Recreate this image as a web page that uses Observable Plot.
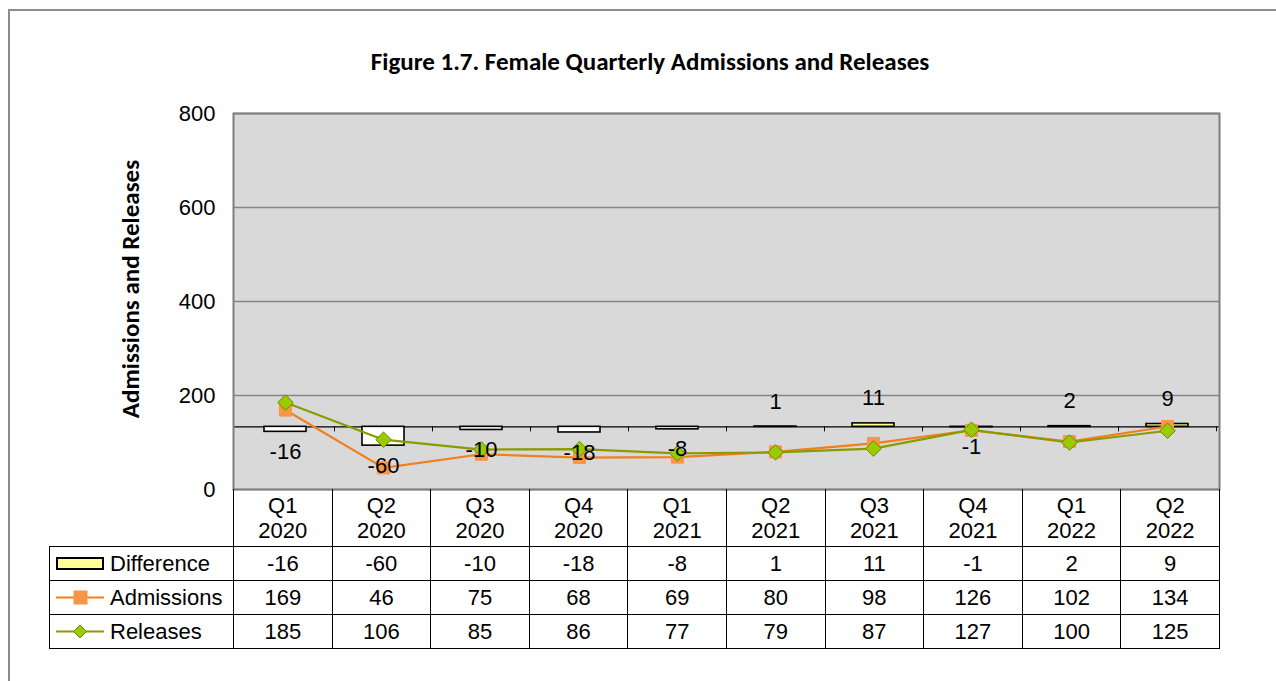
<!DOCTYPE html>
<html>
<head>
<meta charset="utf-8">
<script src="https://cdn.jsdelivr.net/npm/d3@7"></script>
<script src="https://cdn.jsdelivr.net/npm/@observablehq/plot@0.6"></script>
<style>
  html, body { margin: 0; padding: 0; overflow: hidden; background: #fff; }
  #root { position: relative; width: 1276px; height: 681px; overflow: hidden; }
  #outer { position: absolute; left: 8px; top: 9px; width: 1300px; height: 700px; border: 2px solid #8c8c8c; box-sizing: border-box; }
  #title { position: absolute; left: 0; width: 1300px; top: 46px; text-align: center; font-family: Carlito, Lato, "Open Sans", sans-serif; font-weight: 700; font-size: 25px; color: #000; line-height: 32px; }
  #ytitle { position: absolute; left: 130px; top: 289px; transform: translate(-50%, -50%) rotate(-90deg); white-space: nowrap; font-family: Carlito, Lato, "Open Sans", sans-serif; font-weight: 700; font-size: 25px; color: #000; }
  #chart { position: absolute; left: 0; top: 0; }
  #table { position: absolute; left: 49px; top: 489px; border-collapse: collapse; table-layout: fixed; font-family: "Liberation Sans", Arial, sans-serif; font-size: 22px; color: #000; }
  #table td { border: 1px solid #000; padding: 0; text-align: center; vertical-align: middle; height: 33px; }
  #table tr.head td { height: 57px; line-height: 25px; border-top: none; }
  #table tr.head td.blank { border: none; }
  #table td.key { text-align: left; }
  #table td.key div { display: flex; align-items: center; }
  #table td.key svg { margin-left: 6px; margin-right: 6px; }
</style>
</head>
<body>
<div id="root">
  <div id="outer"></div>
  <div id="chart"></div>
  <div id="title"></div>
  <div id="ytitle"></div>
  <table id="table"></table>
</div>
<script>
// ---- data ----
const titleText = "Figure 1.7. Female Quarterly Admissions and Releases";
const yAxisTitle = "Admissions and Releases";
const categories = ["Q1 2020", "Q2 2020", "Q3 2020", "Q4 2020", "Q1 2021", "Q2 2021", "Q3 2021", "Q4 2021", "Q1 2022", "Q2 2022"];
const difference = [-16, -60, -10, -18, -8, 1, 11, -1, 2, 9];
const admissions = [169, 46, 75, 68, 69, 80, 98, 126, 102, 134];
const releases = [185, 106, 85, 86, 77, 79, 87, 127, 100, 125];
const yTicks = [0, 200, 400, 600, 800];
const yDomain = [0, 800];
const secondaryDomain = [-200, 1000]; // hidden secondary axis for Difference
const seriesNames = ["Difference", "Admissions", "Releases"];

// ---- styles ----
const colors = {
  bg: "#d9d9d9", grid: "#868686", frame: "#7f7f7f",
  posFill: "#ffff99", negFill: "#ffffff",
  admLine: "#f07f1e", admFill: "#f79646",
  relLine: "#8a9a00", relFill: "#99cc00", relStroke: "#6f8a00"
};

document.getElementById("title").textContent = titleText;
document.getElementById("ytitle").textContent = yAxisTitle;

const data = categories.map((c, i) => ({cat: c, diff: difference[i], adm: admissions[i], rel: releases[i]}));
// map secondary-axis values onto the primary y domain
const sec = d3.scaleLinear().domain(secondaryDomain).range(yDomain);

const baselineTicks = (index, scales) => {
  const g = d3.create("svg:g");
  const sx = scales.x;
  const bw = typeof sx.bandwidth === "function" ? sx.bandwidth() : scales.scales.x.bandwidth;
  const y0 = scales.y(sec(0));
  for (const c of categories) {
    const xr = Math.round(sx(c) + bw) + 0.5;
    g.append("line").attr("x1", xr).attr("x2", xr).attr("y1", y0).attr("y2", y0 + 5)
      .attr("stroke", "#000").attr("stroke-width", 1);
  }
  return g.node();
};

const plot = Plot.plot({
  width: 1276,
  height: 490,
  marginLeft: 233,
  marginRight: 57,
  marginTop: 113,
  marginBottom: 1,
  style: {fontFamily: "'Liberation Sans', Arial, sans-serif", fontSize: "22px", color: "#000", background: "transparent", overflow: "visible"},
  x: {domain: categories, padding: 0, axis: null},
  y: {domain: yDomain, ticks: yTicks, tickSize: 0, tickPadding: 18, label: null, tickFormat: d => String(d)},
  color: {type: "identity"},
  marks: [
    Plot.frame({fill: colors.bg, stroke: null}),
    Plot.gridY(yTicks, {stroke: colors.grid, strokeOpacity: 1, strokeWidth: 1.5}),
    Plot.ruleY([sec(0)], {stroke: "#000", strokeWidth: 1.2}),
    baselineTicks,
    Plot.barY(data, {
      x: "cat", y1: () => sec(0), y2: d => sec(d.diff),
      fill: d => d.diff < 0 ? colors.negFill : colors.posFill,
      stroke: "#000", strokeWidth: 1.6, insetLeft: 28, insetRight: 28
    }),
    Plot.line(data, {x: "cat", y: "adm", stroke: colors.admLine, strokeWidth: 2.2}),
    Plot.dot(data, {x: "cat", y: "adm", symbol: "square", r: 6.8, fill: colors.admFill, stroke: colors.admFill, strokeWidth: 1}),
    Plot.line(data, {x: "cat", y: "rel", stroke: colors.relLine, strokeWidth: 2.2}),
    Plot.dot(data, {x: "cat", y: "rel", symbol: "diamond2", r: 7, fill: colors.relFill, stroke: colors.relStroke, strokeWidth: 1}),
    Plot.frame({stroke: colors.frame, strokeWidth: 2}),
    Plot.text(data.filter(d => d.diff < 0), {x: "cat", y: d => sec(d.diff), text: d => String(d.diff), dy: 20, fontSize: 22, fill: "#000"}),
    Plot.text(data.filter(d => d.diff >= 0), {x: "cat", y: d => sec(d.diff), text: d => String(d.diff), dy: -25, fontSize: 22, fill: "#000"})
  ]
});
document.getElementById("chart").appendChild(plot);

// ---- data table ----
const table = d3.select("#table");
const colgroup = table.append("colgroup");
colgroup.append("col").style("width", "184px");
categories.forEach(() => colgroup.append("col").style("width", "98.6px"));
const head = table.append("tr").attr("class", "head");
head.append("td").attr("class", "blank");
categories.forEach(c => {
  const [q, y] = c.split(" ");
  head.append("td").html(q + "<br>" + y);
});
const rowsVals = [difference, admissions, releases];
const keyDraw = [
  svg => svg.append("rect").attr("x", 1).attr("y", 2).attr("width", 46).attr("height", 11).attr("fill", colors.posFill).attr("stroke", "#000").attr("stroke-width", 2),
  svg => {
    svg.append("line").attr("x1", 0).attr("x2", 48).attr("y1", 7.5).attr("y2", 7.5).attr("stroke", colors.admLine).attr("stroke-width", 2);
    svg.append("rect").attr("x", 18).attr("y", 1).attr("width", 13).attr("height", 13).attr("fill", colors.admFill).attr("stroke", colors.admFill);
  },
  svg => {
    svg.append("line").attr("x1", 0).attr("x2", 48).attr("y1", 7.5).attr("y2", 7.5).attr("stroke", colors.relLine).attr("stroke-width", 2);
    svg.append("path").attr("d", "M24,1 L30.5,7.5 L24,14 L17.5,7.5 Z").attr("fill", colors.relFill).attr("stroke", colors.relStroke);
  }
];
seriesNames.forEach((name, r) => {
  const tr = table.append("tr");
  const key = tr.append("td").attr("class", "key").append("div");
  const svg = key.append("svg").attr("width", 48).attr("height", 15);
  keyDraw[r](svg);
  key.append("span").text(name);
  rowsVals[r].forEach(v => tr.append("td").text(String(v)));
});
</script>
</body>
</html>
